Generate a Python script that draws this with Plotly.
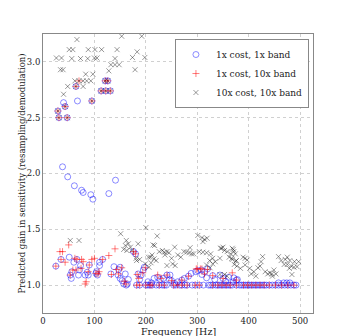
import plotly.graph_objects as go

# 1x cost, 1x band (blue circles)
blue_x = [64, 121, 126, 113, 122, 131, 95, 43, 29, 31, 47, 40, 67,
          38, 48, 61, 75, 78, 93, 97, 128, 141,
          25, 35, 51, 53, 56, 55, 60, 66, 69, 71, 73, 86, 88, 90, 82, 103, 106, 104, 110, 116, 110,
          132, 138, 147, 150, 146, 150, 154, 157, 162, 160, 164, 166, 176, 180, 185, 188, 191, 182, 188,
          195, 197, 204, 211, 216, 223, 228, 234, 241, 246, 250,
          247, 256, 262, 270, 275, 283, 288, 297, 301, 308, 314, 320, 309, 318, 330, 334, 344, 350, 355,
          361, 370, 371, 376, 378, 458, 468, 474, 480,
          200, 204, 208, 212, 220, 226, 232, 236, 240, 254, 258, 266, 270, 276, 280, 290, 296, 304, 312,
          322, 326, 330, 336, 340, 344, 348, 352, 356, 360, 364, 368, 376, 382, 386, 390, 394, 398, 402,
          406, 410, 414, 418, 422, 426, 430, 434, 440, 446, 452, 458, 464, 470, 476, 482, 488, 492]
blue_y = [2.78, 2.83, 2.83, 2.74, 2.74, 2.74, 2.65, 2.60, 2.56, 2.50, 2.50, 2.635, 2.65,
          2.06, 1.97, 1.89, 1.85, 1.83, 1.81, 1.77, 1.82, 1.94,
          1.17, 1.23, 1.25, 1.09, 1.12, 1.06, 1.205, 1.23, 1.09, 1.135, 1.175, 1.115, 1.09, 1.18, 1.09,
          1.105, 1.09, 1.12, 1.205, 1.23, 1.175,
          1.10, 1.165, 1.14, 1.16, 1.09, 1.06, 1.04, 1.01, 1.0, 1.10, 1.01, 1.05, 1.30, 1.28, 1.10, 1.05,
          1.09, 1.0, 1.0,
          1.135, 1.16, 1.03, 1.02, 1.06, 1.07, 1.05, 1.06, 1.09, 1.05, 1.04,
          1.09, 1.015, 1.03, 1.045, 1.06, 1.08, 1.105, 1.12, 1.13, 1.135, 1.12, 1.145, 1.095, 1.065,
          1.085, 1.05, 1.09, 1.06, 1.035, 1.07, 1.03, 1.065, 1.045, 1.05, 1.02, 1.02, 1.02, 1.02,
          1.0, 1.0, 1.0, 1.0, 1.0, 1.0, 1.0, 1.0, 1.0, 1.0, 1.0, 1.0, 1.0, 1.0, 1.0, 1.0, 1.0, 1.0, 1.0,
          1.0, 1.0, 1.0, 1.0, 1.0, 1.0, 1.0, 1.0, 1.0, 1.0, 1.0, 1.0, 1.0, 1.0, 1.0, 1.0, 1.0, 1.0, 1.0,
          1.0, 1.0, 1.0, 1.0, 1.0, 1.0, 1.0, 1.0, 1.0, 1.0, 1.0, 1.0, 1.0, 1.0, 1.0, 1.0, 1.0, 1.0]

# 1x cost, 10x band (red pluses)
red_x = [64, 70, 121, 126, 113, 122, 131, 95, 43, 29, 31, 47,
         33, 38, 50, 43, 62, 75, 78, 95, 100, 128, 140, 58, 64, 74, 88, 107, 109, 82, 84, 25, 35, 53,
         66, 90, 103, 116, 133, 143, 147, 153, 158, 161, 176, 180, 183, 186, 194, 199, 223, 241, 230,
         250, 270, 283, 298, 300, 306, 309, 320, 314, 330, 350, 368, 376,
         182, 188, 200, 208, 212, 226, 236, 254, 262, 270, 280, 296, 304, 330, 340, 348, 356, 364,
         376, 390, 398, 406, 414, 422, 430, 440, 452, 464, 476, 488]
red_y = [2.78, 2.83, 2.83, 2.83, 2.74, 2.74, 2.74, 2.65, 2.60, 2.56, 2.50, 2.50,
         1.30, 1.30, 1.36, 1.205, 1.24, 1.23, 1.21, 1.23, 1.24, 1.265, 1.325, 1.135, 1.135, 1.15, 1.12,
         1.10, 1.12, 1.01, 1.03, 1.17, 1.23, 1.09, 1.23, 1.18, 1.105, 1.23, 1.095, 1.14, 1.10, 1.155,
         1.035, 1.01, 1.30, 1.28, 1.095, 1.06, 1.11, 1.155, 1.09, 1.09, 1.06, 1.04, 1.045, 1.08, 1.145,
         1.145, 1.145, 1.145, 1.14, 1.10, 1.085, 1.06, 1.11, 1.045,
         1.0, 1.0, 1.0, 1.0, 1.0, 1.0, 1.0, 1.0, 1.0, 1.0, 1.0, 1.0, 1.0, 1.0, 1.0, 1.0, 1.0, 1.0,
         1.0, 1.0, 1.0, 1.0, 1.0, 1.0, 1.0, 1.0, 1.0, 1.0, 1.0, 1.0]

# 10x cost, 10x band (gray crosses)
gray_x = [66, 153, 192, 51, 58, 88, 101, 114, 144, 183, 26, 36, 56, 73, 87, 100, 105, 140, 174, 198,
          132, 140, 148, 34, 39, 128, 179, 83, 97, 62, 70, 78, 85, 93, 121, 126, 48, 64, 78, 40,
          113, 122, 131, 95, 43, 29, 31, 47,
          53, 70, 151, 200, 162, 166, 160, 170, 157, 163, 173, 185, 181, 188, 217, 222, 232, 236, 241,
          245, 237, 216, 220, 199, 206, 250, 241, 301, 309, 314, 319, 311, 256, 286, 274, 279, 284, 289,
          293, 304, 311, 318, 326, 262, 268, 252, 257, 345, 350, 358, 365, 370, 374, 367, 376, 344, 324,
          318, 347, 353, 368, 371, 362, 368, 375, 372, 377, 384, 389, 393, 397, 393, 402, 405, 410, 414,
          427, 424, 422, 418, 432, 437, 441, 445, 449, 453, 446, 458, 463, 469, 471, 475, 480, 475, 483,
          479, 488, 494, 497, 489, 484, 344, 353, 358, 330, 335, 325, 330, 226, 212, 205, 210, 182, 209,
          214]
gray_y = [3.20, 3.23, 3.23, 3.11, 3.11, 3.11, 3.11, 3.11, 3.11, 3.09, 3.035, 3.035, 3.03, 3.03, 3.03,
          3.035, 3.035, 3.03, 3.04, 3.04, 2.975, 2.975, 2.975, 2.93, 2.93, 2.92, 2.93, 2.89, 2.89, 2.83,
          2.83, 2.83, 2.83, 2.83, 2.83, 2.83, 2.78, 2.78, 2.78, 2.71, 2.74, 2.74, 2.74, 2.65, 2.60, 2.56,
          2.50, 2.50,
          1.40, 1.40, 1.46, 1.515, 1.40, 1.37, 1.355, 1.34, 1.32, 1.31, 1.31, 1.37, 1.24, 1.23, 1.355,
          1.44, 1.31, 1.295, 1.30, 1.29, 1.27, 1.235, 1.22, 1.19, 1.16, 1.24, 1.175, 1.445, 1.425, 1.41,
          1.42, 1.39, 1.34, 1.335, 1.30, 1.295, 1.29, 1.28, 1.28, 1.30, 1.295, 1.29, 1.28, 1.27, 1.25,
          1.19, 1.175, 1.33, 1.34, 1.30, 1.28, 1.32, 1.28, 1.24, 1.22, 1.24, 1.22, 1.18, 1.33, 1.31,
          1.33, 1.30, 1.25, 1.23, 1.215, 1.185, 1.17, 1.15, 1.25, 1.24, 1.225, 1.18, 1.15, 1.10, 1.12,
          1.08, 1.255, 1.21, 1.17, 1.155, 1.12, 1.10, 1.11, 1.10, 1.135, 1.10, 1.08, 1.255, 1.22, 1.185,
          1.23, 1.25, 1.22, 1.185, 1.17, 1.15, 1.16, 1.165, 1.21, 1.21, 1.095, 1.095, 1.095, 1.08, 1.24,
          1.21, 1.155, 1.19, 1.30, 1.27, 1.25, 1.20, 1.22, 1.25, 1.36]

x_ticks = [0, 100, 200, 300, 400, 500]
y_ticks = [1.0, 1.5, 2.0, 2.5, 3.0]

fig = go.Figure()

fig.add_trace(go.Scatter(
    x=blue_x, y=blue_y, mode="markers", name="1x cost, 1x band",
    marker=dict(symbol="circle-open", size=6, color="rgba(0,0,255,0.45)", line=dict(width=1))
))
fig.add_trace(go.Scatter(
    x=red_x, y=red_y, mode="markers", name="1x cost, 10x band",
    marker=dict(symbol="cross-thin", size=5, line=dict(width=1, color="rgba(255,0,0,0.5)"))
))
fig.add_trace(go.Scatter(
    x=gray_x, y=gray_y, mode="markers", name="10x cost, 10x band",
    marker=dict(symbol="x-thin", size=5, line=dict(width=1, color="rgba(0,0,0,0.4)"))
))

axis_style = dict(
    showline=True, linecolor="#888", linewidth=1, mirror=True,
    showgrid=True, gridcolor="#d0d0d0", griddash="dot", gridwidth=1,
    zeroline=False, ticks="", tickfont=dict(size=8.5, color="#222"),
    automargin=False,
)

# page body adds an 8px margin, so the figure is a bit smaller than the window
fig.update_layout(
    width=340, height=328,
    margin=dict(l=35, r=35, t=26, b=23),
    paper_bgcolor="white", plot_bgcolor="white",
    font=dict(family="DejaVu Serif", color="#222"),
    showlegend=True,
    legend=dict(
        x=0.985, y=0.982, xanchor="right", yanchor="top",
        bgcolor="white", bordercolor="#888", borderwidth=1,
        font=dict(size=9), itemwidth=30, tracegroupgap=0,
    ),
    xaxis=dict(axis_style, range=[0, 525], tickvals=x_ticks),
    yaxis=dict(axis_style, range=[0.75, 3.25], tickvals=y_ticks, tickformat=".1f"),
)

# axis titles as annotations so they sit where the original puts them
fig.add_annotation(text="Frequency [Hz]", xref="paper", yref="paper", x=0.5, y=0,
                   xanchor="center", yanchor="top", yshift=-11, showarrow=False,
                   font=dict(size=9.5, color="#222"))
fig.add_annotation(text="Predicted gain in sensitivity (resampling/demodulation)",
                   xref="paper", yref="paper", x=0, y=0.5, textangle=-90,
                   xanchor="center", yanchor="middle", xshift=-22, showarrow=False,
                   font=dict(size=8.5, color="#222"))

fig.write_html("out.html")
